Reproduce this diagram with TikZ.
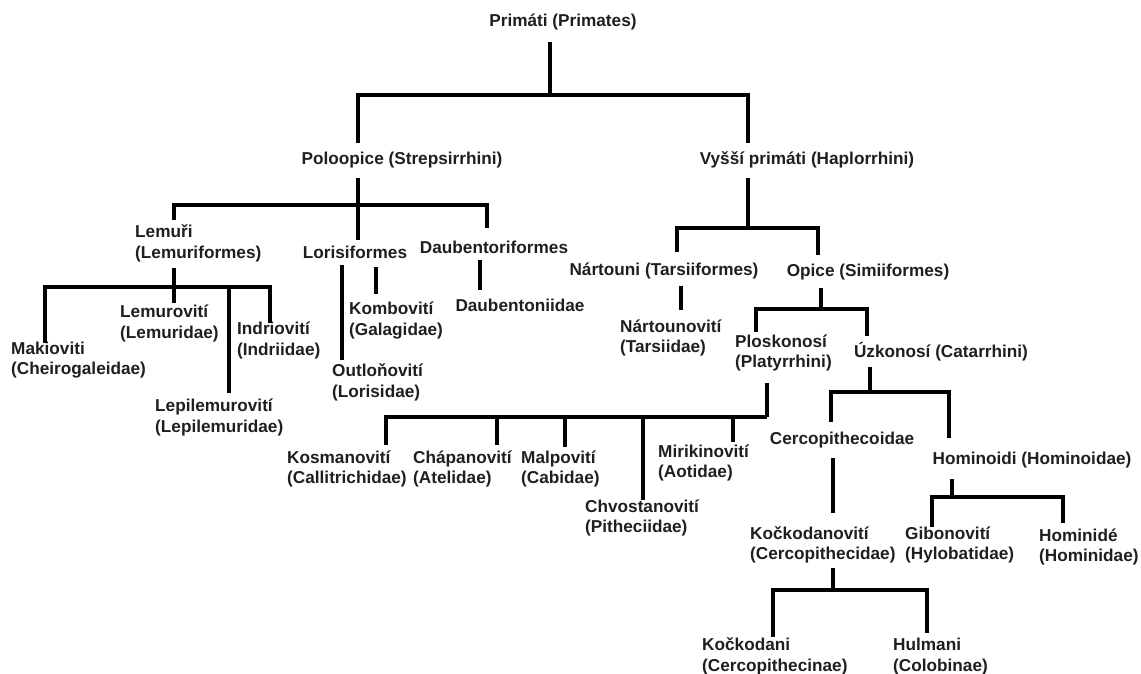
\documentclass[tikz,border=0pt]{standalone}
\usepackage{fontspec}
\setmainfont{Liberation Sans}
\begin{document}
\begin{tikzpicture}[x=1pt,y=-1pt,
  lab/.style={inner sep=0pt, align=left, font=\fontsize{17.2}{20.5}\selectfont\bfseries, text=black!88},
  br/.style={line width=3.1pt, line cap=butt, line join=miter}]
\useasboundingbox (0,0) rectangle (1141,674);
\clip (0,0) rectangle (1141,674);
\fill[white] (0,0) rectangle (1141,674);

% ---------- nodes ----------
\node[lab] (primati) at (563,22) {Primáti (Primates)};
\node[lab] (polo) at (402,160) {Poloopice (Strepsirrhini)};
\node[lab] (vyssi) at (807,160) {Vyšší primáti (Haplorrhini)};

\node[lab,anchor=west] (lemuri) at (135,243.5) {Lemuři\\(Lemuriformes)};
\node[lab] (loris) at (355,252) {Lorisiformes};
\node[lab] (daub) at (494,247) {Daubentoriformes};

\node[lab,anchor=west] (makio) at (11,360) {Makioviti\\(Cheirogaleidae)};
\node[lab,anchor=west] (lemuro) at (120,323.5) {Lemurovití\\(Lemuridae)};
\node[lab,anchor=west] (indrio) at (237,340.5) {Indriovití\\(Indriidae)};
\node[lab,anchor=west] (lepil) at (155,417.5) {Lepilemurovití\\(Lepilemuridae)};
\node[lab,anchor=west] (outlon) at (332,382.5) {Outloňovití\\(Lorisidae)};
\node[lab,anchor=west] (kombo) at (349,320.5) {Kombovití\\(Galagidae)};
\node[lab] (daubid) at (520,305) {Daubentoniidae};

\node[lab] (nartouni) at (664,271) {Nártouni (Tarsiiformes)};
\node[lab] (opice) at (868,272) {Opice (Simiiformes)};
\node[lab,anchor=west] (nartov) at (620,338) {Nártounovití\\(Tarsiidae)};
\node[lab,anchor=west] (plosk) at (735,353) {Ploskonosí\\(Platyrrhini)};
\node[lab] (uzko) at (941,352) {Úzkonosí (Catarrhini)};

\node[lab,anchor=west] (kosman) at (287,469) {Kosmanovití\\(Callitrichidae)};
\node[lab,anchor=west] (chapan) at (413,469) {Chápanovití\\(Atelidae)};
\node[lab,anchor=west] (malpo) at (521,469) {Malpovití\\(Cabidae)};
\node[lab,anchor=west] (chvost) at (585,518) {Chvostanovití\\(Pitheciidae)};
\node[lab,anchor=west] (mirik) at (658,463) {Mirikinovití\\(Aotidae)};

\node[lab] (cercoid) at (842,440) {Cercopithecoidae};
\node[lab] (homoid) at (1032,460) {Hominoidi (Hominoidae)};
\node[lab,anchor=west] (kockov) at (750,545) {Kočkodanovití\\(Cercopithecidae)};
\node[lab,anchor=west] (gibon) at (905,545) {Gibonovití\\(Hylobatidae)};
\node[lab,anchor=west] (homini) at (1039,547) {Hominidé\\(Hominidae)};
\node[lab,anchor=west] (kockod) at (702,656.5) {Kočkodani\\(Cercopithecinae)};
\node[lab,anchor=west] (hulman) at (893,656.5) {Hulmani\\(Colobinae)};

% ---------- connector points ----------
\path (550,42) coordinate (a0) (550,95) coordinate (a1)
      (358,143) coordinate (aL) (358,95) coordinate (aLj)
      (748,95) coordinate (aRj) (748,143) coordinate (aR);
\path (358,178) coordinate (b0) (358,205) coordinate (b1)
      (174,220) coordinate (bL) (174,205) coordinate (bLj)
      (487,205) coordinate (bRj) (487,228) coordinate (bR)
      (358,240) coordinate (bM);
\path (174,268) coordinate (c0) (174,287) coordinate (c1)
      (45,343) coordinate (cL) (45,287) coordinate (cLj)
      (270,287) coordinate (cRj) (270,323) coordinate (cR)
      (174,303) coordinate (cM1) (229,287) coordinate (cM2j) (229,393) coordinate (cM2);
\path (342,265) coordinate (d0) (342,360) coordinate (d1)
      (376,267) coordinate (d2) (376,294) coordinate (d3);
\path (480,260) coordinate (e0) (480,290) coordinate (e1);
\path (748,178) coordinate (f0) (748,228) coordinate (f1)
      (677,252) coordinate (fL) (677,228) coordinate (fLj)
      (818,228) coordinate (fRj) (818,255) coordinate (fR);
\path (681,286) coordinate (g0) (681,310) coordinate (g1);
\path (821,288) coordinate (h0) (821,309) coordinate (h1)
      (756,332) coordinate (hL) (756,309) coordinate (hLj)
      (867,309) coordinate (hRj) (867,336) coordinate (hR);
\path (767,383) coordinate (i0) (767,417) coordinate (i1)
      (386,445) coordinate (iL) (386,417) coordinate (iLj)
      (497,417) coordinate (iAj) (497,445) coordinate (iA)
      (565,417) coordinate (iBj) (565,447) coordinate (iB)
      (643,417) coordinate (iCj) (643,500) coordinate (iC)
      (733,417) coordinate (iDj) (733,442) coordinate (iD);
\path (870,367) coordinate (k0) (870,392) coordinate (k1)
      (831,422) coordinate (kL) (831,392) coordinate (kLj)
      (949,392) coordinate (kRj) (949,438) coordinate (kR);
\path (833,458) coordinate (l0) (833,513) coordinate (l1);
\path (952,479) coordinate (m0) (952,497) coordinate (m1)
      (932,527) coordinate (mL) (932,497) coordinate (mLj)
      (1063,497) coordinate (mRj) (1063,523) coordinate (mR);
\path (833,568) coordinate (n0) (833,590) coordinate (n1)
      (773,637) coordinate (nL) (773,590) coordinate (nLj)
      (927,590) coordinate (nRj) (927,633) coordinate (nR);

% ---------- connectors ----------
\draw[br] (a0) -- (a1);
\draw[br] (aL) -- (aLj) -- (aRj) -- (aR);
\draw[br] (b0) -- (b1);
\draw[br] (bL) -- (bLj) -- (bRj) -- (bR);
\draw[br] (b1) -- (bM);
\draw[br] (c0) -- (c1);
\draw[br] (cL) -- (cLj) -- (cRj) -- (cR);
\draw[br] (c1) -- (cM1);
\draw[br] (cM2j) -- (cM2);
\draw[br] (d0) -- (d1);
\draw[br] (d2) -- (d3);
\draw[br] (e0) -- (e1);
\draw[br] (f0) -- (f1);
\draw[br] (fL) -- (fLj) -- (fRj) -- (fR);
\draw[br] (g0) -- (g1);
\draw[br] (h0) -- (h1);
\draw[br] (hL) -- (hLj) -- (hRj) -- (hR);
\draw[br] (i0) -- (i1);
\draw[br] (iL) -- (iLj) -- (i1);
\draw[br] (iAj) -- (iA);
\draw[br] (iBj) -- (iB);
\draw[br] (iCj) -- (iC);
\draw[br] (iDj) -- (iD);
\draw[br] (k0) -- (k1);
\draw[br] (kL) -- (kLj) -- (kRj) -- (kR);
\draw[br] (l0) -- (l1);
\draw[br] (m0) -- (m1);
\draw[br] (mL) -- (mLj) -- (mRj) -- (mR);
\draw[br] (n0) -- (n1);
\draw[br] (nL) -- (nLj) -- (nRj) -- (nR);
\end{tikzpicture}
\end{document}
